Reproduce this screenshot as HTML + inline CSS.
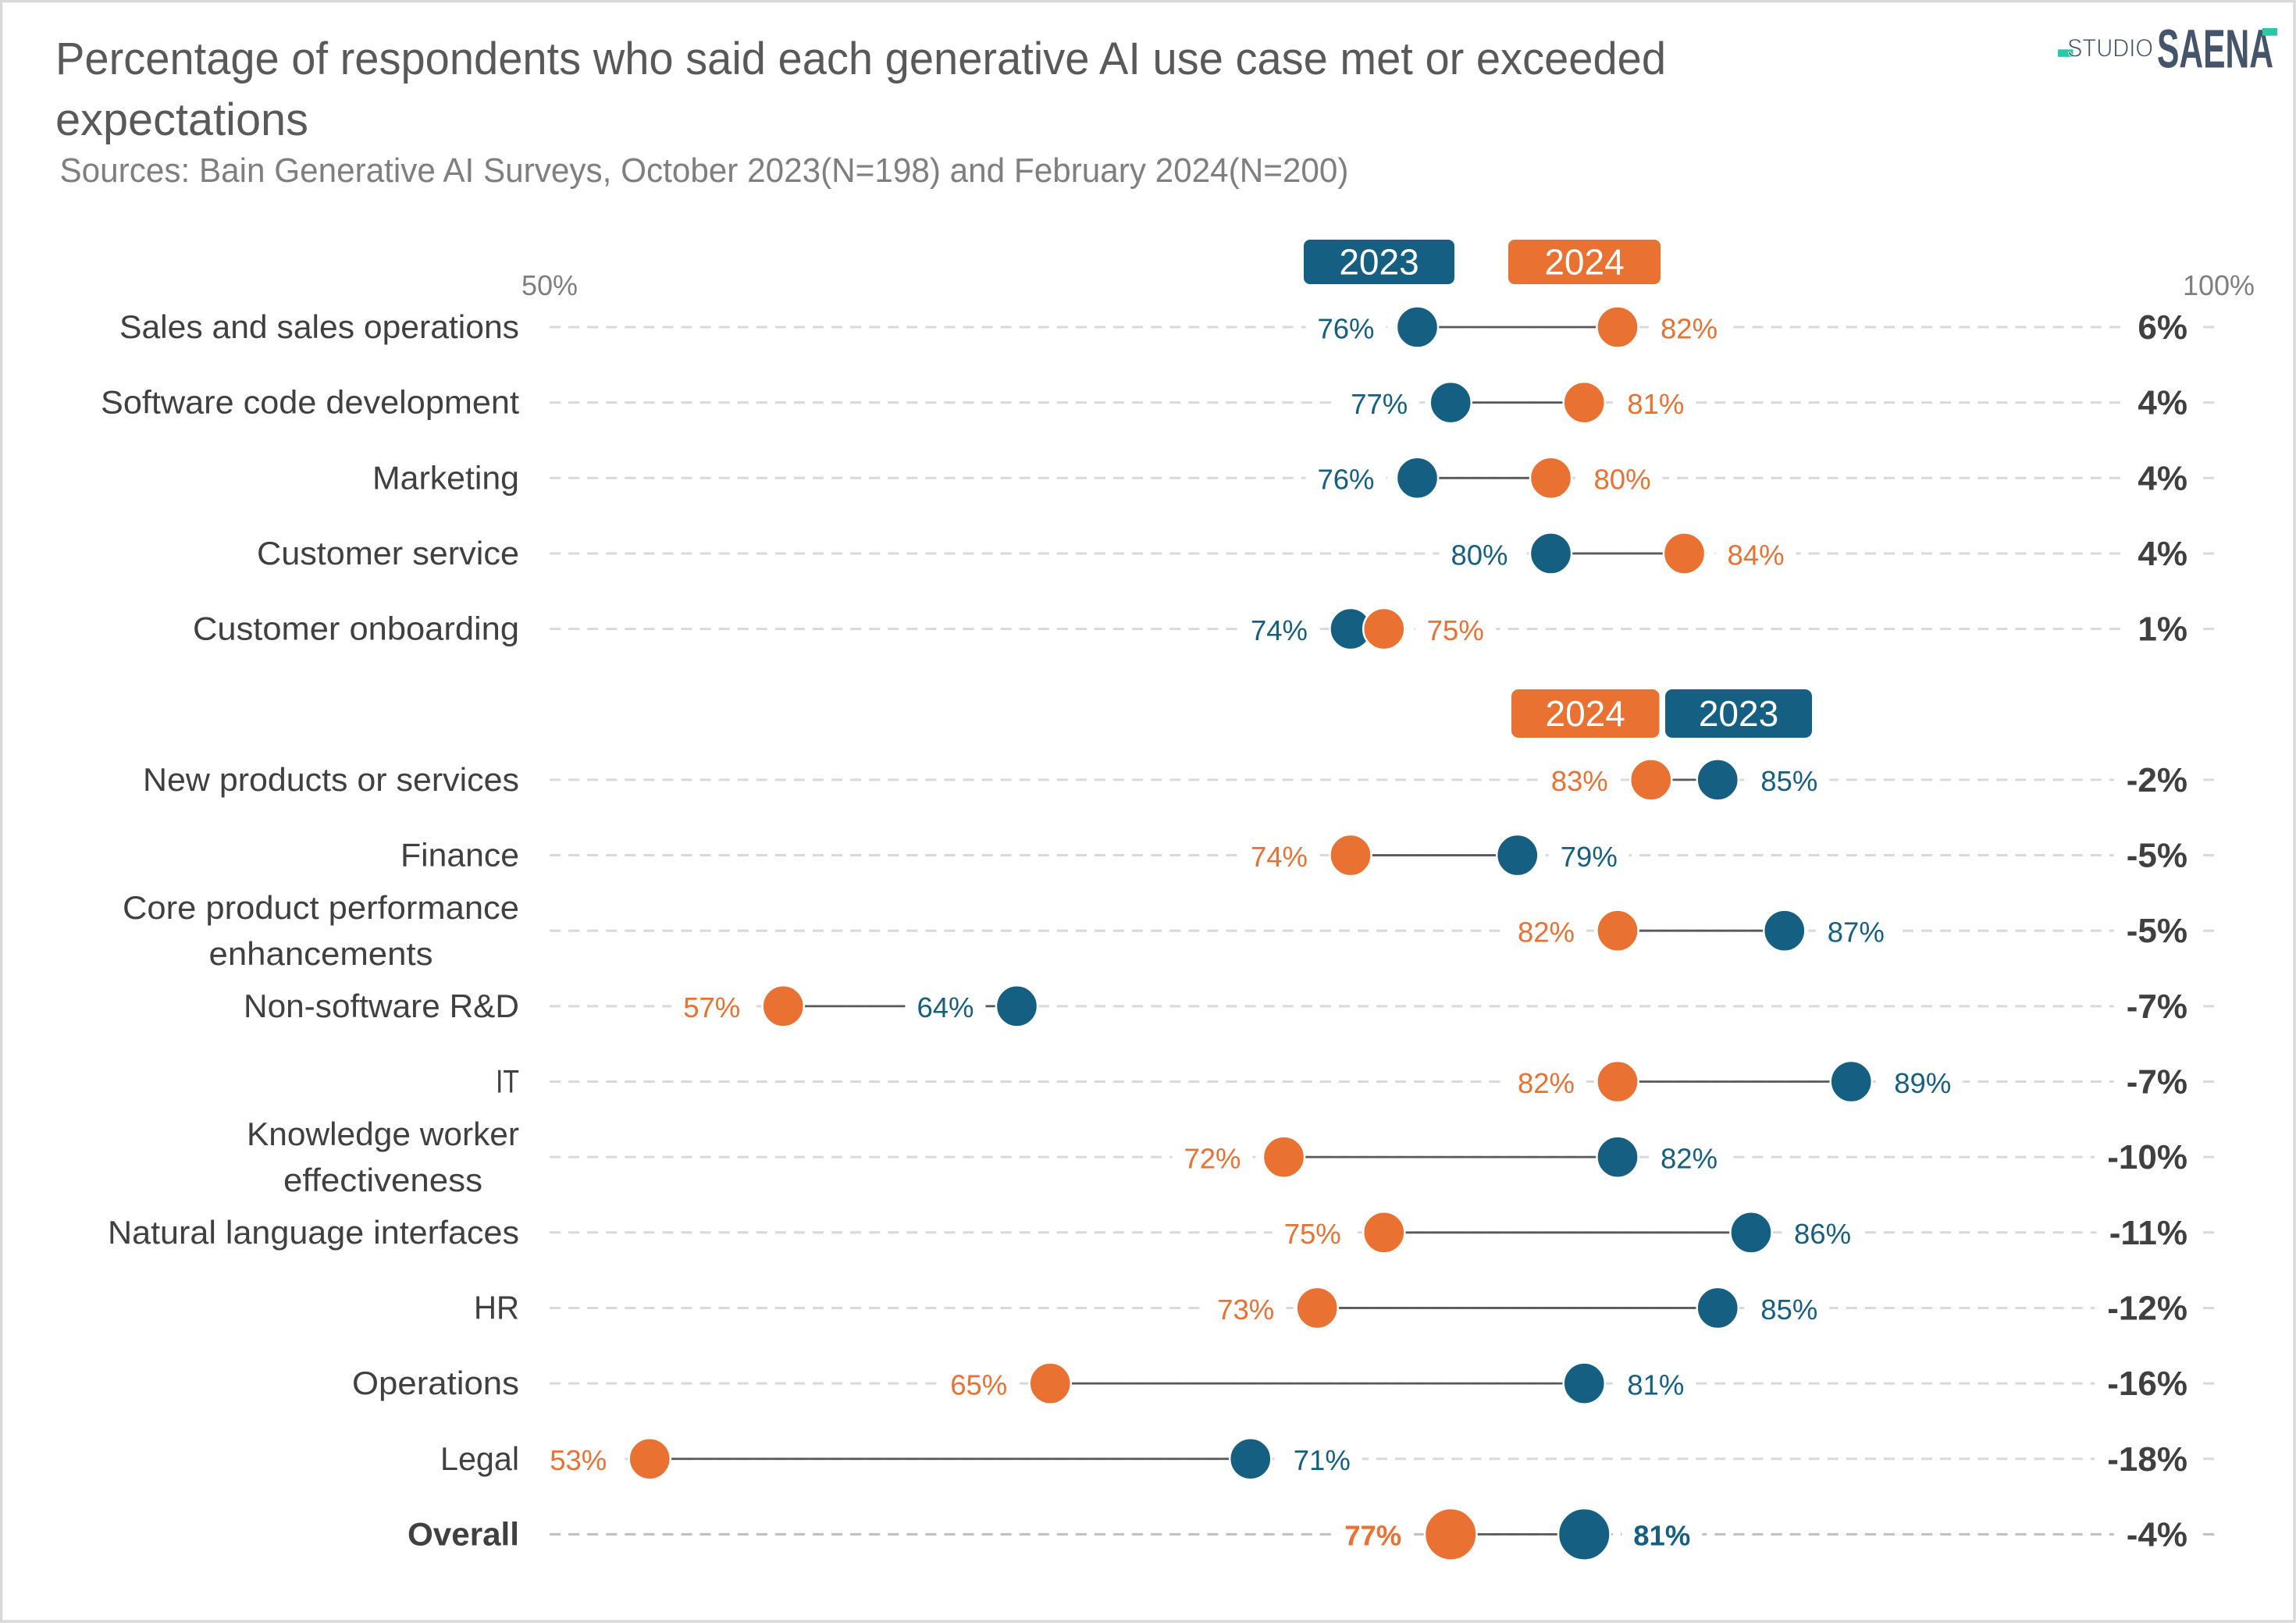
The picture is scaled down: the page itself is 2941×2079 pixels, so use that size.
<!DOCTYPE html>
<html lang="en">
<head>
<meta charset="utf-8">
<title>Generative AI use case expectations</title>
<style>
  html, body { margin: 0; padding: 0; background: #fff; }
  svg { display: block; font-family: "Liberation Sans", sans-serif; }
</style>
</head>
<body>
<svg id="chart" xmlns="http://www.w3.org/2000/svg" width="2941" height="2079" viewBox="0 0 2941 2079">
  <rect x="1.5" y="1.5" width="2937.5" height="2075.5" fill="#ffffff" stroke="#d9d9d9" stroke-width="3.5"/>

  <text x="71" y="95" font-size="58" fill="#595959" textLength="2063" lengthAdjust="spacingAndGlyphs">Percentage of respondents who said each generative AI use case met or exceeded</text>
  <text x="71" y="173" font-size="58" fill="#595959" textLength="324" lengthAdjust="spacingAndGlyphs">expectations</text>
  <text x="76.5" y="233" font-size="44" fill="#7f7f7f" textLength="1651" lengthAdjust="spacingAndGlyphs">Sources: Bain Generative AI Surveys, October 2023(N=198) and February 2024(N=200)</text>

  <g>
    <rect x="2636" y="63.3" width="19.5" height="9.5" fill="#2ac8a8"/>
    <text x="2648" y="72.7" font-size="32" fill="#44546a" stroke="#ffffff" stroke-width="0.9" textLength="110" lengthAdjust="spacingAndGlyphs">STUDIO</text>
    <text x="2763" y="86.7" font-size="70" font-weight="700" fill="#44546a" textLength="149" lengthAdjust="spacingAndGlyphs">SAENA</text>
    <rect x="2898" y="36" width="19" height="9.7" fill="#2ac8a8"/>
  </g>

  <g>
    <rect x="1670" y="307" width="193" height="57" rx="8" fill="#156082"/>
    <text x="1766.5" y="351.5" font-size="46" fill="#ffffff" text-anchor="middle">2023</text>
    <rect x="1932" y="307" width="195" height="57" rx="8" fill="#e97132"/>
    <text x="2029.5" y="351.5" font-size="46" fill="#ffffff" text-anchor="middle">2024</text>
  </g>
  <g>
    <rect x="1936" y="883" width="189.5" height="62" rx="9" fill="#e97132"/>
    <text x="2030.7" y="930" font-size="46" fill="#ffffff" text-anchor="middle">2024</text>
    <rect x="2133" y="883" width="188" height="62" rx="9" fill="#156082"/>
    <text x="2227" y="930" font-size="46" fill="#ffffff" text-anchor="middle">2023</text>
  </g>

  <text x="704" y="378" font-size="36" fill="#7f7f7f" text-anchor="middle">50%</text>
  <text x="2842" y="378" font-size="36" fill="#7f7f7f" text-anchor="middle">100%</text>

  <g id="rows"></g>
</svg>

<script>
const categories = [
  "Sales and sales operations", "Software code development", "Marketing", "Customer service", "Customer onboarding",
  "New products or services", "Finance", "Core product performance\nenhancements", "Non-software R&D", "IT",
  "Knowledge worker\neffectiveness", "Natural language interfaces", "HR", "Operations", "Legal", "Overall"
];
const values2023 = [76, 77, 76, 80, 74, 85, 79, 87, 64, 89, 82, 86, 85, 81, 71, 81];
const values2024 = [82, 81, 80, 84, 75, 83, 74, 82, 57, 82, 72, 75, 73, 65, 53, 77];
const inwardLabelCategories = ["Non-software R&D"];
const emphasisCategory = "Overall";

/* typography fit: rendered width of each label line in the source typeface */
const labelLineFit = {
  "Sales and sales operations": 512, "Software code development": 536, "Marketing": 188,
  "Customer service": 336, "Customer onboarding": 418, "New products or services": 482,
  "Finance": 152, "Core product performance": 508, "enhancements": 287, "Non-software R&D": 353,
  "IT": 30, "Knowledge worker": 349, "effectiveness": 255, "Natural language interfaces": 527,
  "HR": 58, "Operations": 214, "Legal": 101, "Overall": 143
};

const NS = "http://www.w3.org/2000/svg";
const BLUE = "#156082";
const ORANGE = "#e97132";
const axisMin = 50, axisLeft = 704, pxPerPoint = 42.75;
const rowTop = 419, rowPitch = 96.65, secondGroupStart = 5;
const labelRight = 665;
const rowsLayer = document.getElementById("rows");

function xScale(v) { return axisLeft + (v - axisMin) * pxPerPoint; }
function yScale(i) { return rowTop + rowPitch * (i + (i >= secondGroupStart ? 1 : 0)); }
function slug(s) { return s.toLowerCase().replace(/[^a-z0-9]+/g, "-").replace(/^-|-$/g, ""); }

function make(tag, name, attrs, parent) {
  const el = document.createElementNS(NS, tag);
  
  
  for (const k in attrs) el.setAttribute(k, attrs[k]);
  parent.appendChild(el);
  return el;
}

function fitLabel(el, line) {
  if (labelLineFit[line]) {
    el.setAttribute("textLength", labelLineFit[line]);
    el.setAttribute("lengthAdjust", "spacingAndGlyphs");
  }
}

categories.forEach(function (cat, i) {
  const key = slug(cat);
  const y = yScale(i);
  const strong = cat === emphasisCategory;
  const v23 = values2023[i], v24 = values2024[i];
  const x23 = xScale(v23), x24 = xScale(v24);
  const radius = strong ? 32 : 25.3;
  const labelOffset = strong ? 63 : 55;
  const row = make("g", "row-" + key, {}, rowsLayer);

  make("line", "gridline-" + key, {
    x1: 704, x2: 2836, y1: y, y2: y,
    stroke: strong ? "#bfbfbf" : "#d9d9d9", "stroke-width": 3, "stroke-dasharray": "14 10.07"
  }, row);

  make("line", "connector-" + key, {
    x1: x23, x2: x24, y1: y, y2: y, stroke: "#595959", "stroke-width": 2.8
  }, row);

  /* value labels: lower value sits left of its dot, higher value right, unless the label is flipped inward */
  const pairs = [
    { year: "2023", v: v23, x: x23, other: v24, color: BLUE },
    { year: "2024", v: v24, x: x24, other: v23, color: ORANGE }
  ];
  const texts = [];
  pairs.forEach(function (p) {
    let onLeft = p.v < p.other || (p.v === p.other && p.year === "2023");
    if (inwardLabelCategories.indexOf(cat) !== -1 && p.year === "2023") onLeft = !onLeft;
    const box = make("rect", "value-label-mask-" + p.year + "-" + key, { y: y - 6, height: 12, fill: "#ffffff" }, row);
    const t = make("text", "value-label-" + p.year + "-" + key, {
      x: onLeft ? p.x - labelOffset : p.x + labelOffset,
      y: y + 14.3,
      "font-size": 36.5,
      fill: p.color,
      "font-weight": strong ? 700 : 400,
      "text-anchor": onLeft ? "end" : "start"
    }, row);
    t.textContent = p.v + "%";
    texts.push({ box: box, t: t, onLeft: onLeft, x: p.x });
  });
  texts.forEach(function (o) {
    const w = o.t.getComputedTextLength();
    const left = o.onLeft ? o.x - labelOffset - w : o.x + labelOffset;
    o.box.setAttribute("x", left - 15);
    o.box.setAttribute("width", w + 30);
  });

  make("circle", "dot-2023-" + key, { cx: x23, cy: y, r: radius + 1.25, fill: BLUE, stroke: "#ffffff", "stroke-width": 2.5 }, row);
  make("circle", "dot-2024-" + key, { cx: x24, cy: y, r: radius + 1.25, fill: ORANGE, stroke: "#ffffff", "stroke-width": 2.5 }, row);

  /* category label */
  const lines = cat.split("\n");
  if (lines.length === 1) {
    const lab = make("text", "category-label-" + key, {
      x: labelRight, y: y + 14, "font-size": 42, fill: "#404040", "text-anchor": "end",
      "font-weight": strong ? 700 : 400
    }, row);
    lab.textContent = cat;
    fitLabel(lab, cat);
  } else {
    const first = make("text", "category-label-" + key, {
      x: labelRight, y: y - 15, "font-size": 42, fill: "#404040", "text-anchor": "end"
    }, row);
    first.textContent = lines[0];
    fitLabel(first, lines[0]);
    const w = labelLineFit[lines[0]] || first.getComputedTextLength();
    const second = make("text", "category-label-line-2-" + key, {
      x: labelRight - w / 2, y: y + 44, "font-size": 42, fill: "#404040", "text-anchor": "middle"
    }, row);
    second.textContent = lines[1];
    fitLabel(second, lines[1]);
  }

  /* change column */
  const change = v24 - v23;
  const chg = make("text", "change-value-" + key, {
    x: 2802, y: y + 15, "font-size": 44, "font-weight": 700, fill: "#404040", "text-anchor": "end"
  }, row);
  chg.textContent = change + "%";
  const cw = chg.getComputedTextLength();
  const mask = make("rect", "change-value-mask-" + key, {
    x: 2802 - cw - 16, y: y - 6, width: cw + 36, height: 12, fill: "#ffffff"
  }, row);
  row.insertBefore(mask, chg);
});
</script>
</body>
</html>
